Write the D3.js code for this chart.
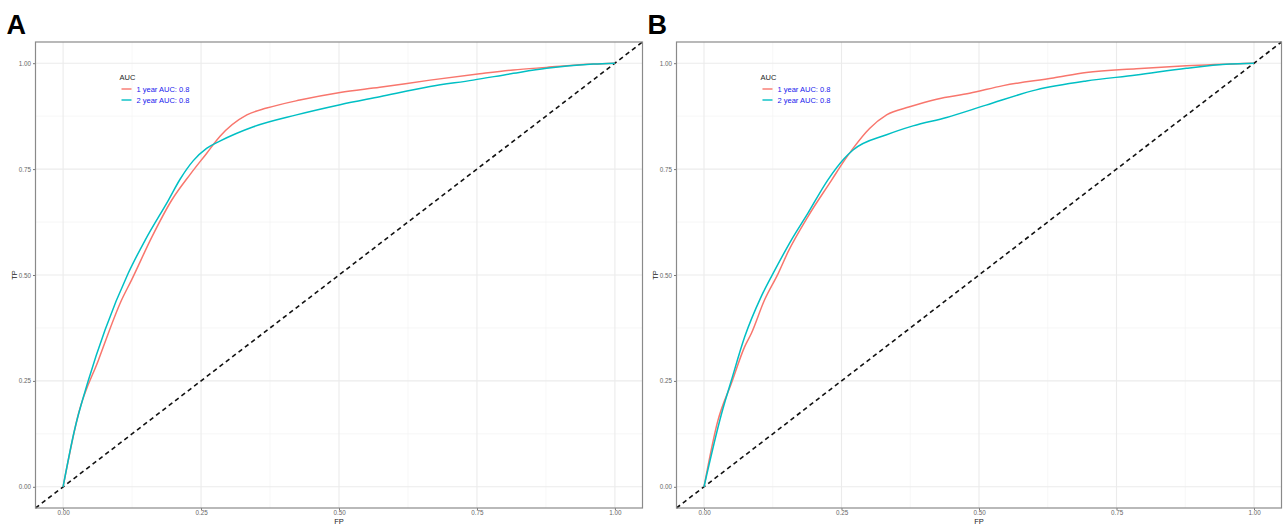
<!DOCTYPE html>
<html>
<head>
<meta charset="utf-8">
<script src="https://cdn.jsdelivr.net/npm/d3@7"></script>
<style>
  body { margin: 0; background: #fff; }
  svg { display: block; font-family: "Liberation Sans", Arial, sans-serif; }
</style>
</head>
<body>
<script>
// tick values shared by both panels
var ticks = [0, 0.25, 0.5, 0.75, 1];
var tickLabels = ["0.00", "0.25", "0.50", "0.75", "1.00"];
var seriesNames = ["1 year AUC: 0.8", "2 year AUC: 0.8"];
var seriesColors = ["#F8766D", "#00BFC4"];

// panel A, 1 year
var aFp1 = [0, 0.028, 0.064, 0.106, 0.124, 0.161, 0.197, 0.230, 0.260, 0.284, 0.333, 0.369, 0.429, 0.502, 0.574, 0.665, 0.755, 0.816, 0.876, 0.961, 1];
var aTp1 = [0, 0.173, 0.299, 0.441, 0.488, 0.590, 0.677, 0.737, 0.787, 0.827, 0.878, 0.894, 0.913, 0.931, 0.943, 0.960, 0.975, 0.984, 0.990, 0.998, 1];
// panel A, 2 year
var aFp2 = [0, 0.020, 0.046, 0.076, 0.118, 0.149, 0.191, 0.212, 0.236, 0.260, 0.284, 0.345, 0.423, 0.502, 0.574, 0.665, 0.743, 0.816, 0.876, 0.961, 1];
var aTp2 = [0, 0.130, 0.252, 0.370, 0.504, 0.583, 0.677, 0.726, 0.770, 0.799, 0.816, 0.850, 0.878, 0.902, 0.921, 0.945, 0.960, 0.976, 0.988, 0.998, 1];
// panel B, 1 year
var bFp1 = [0, 0.025, 0.050, 0.074, 0.086, 0.110, 0.135, 0.153, 0.189, 0.232, 0.255, 0.271, 0.301, 0.332, 0.374, 0.423, 0.483, 0.544, 0.635, 0.695, 0.786, 0.877, 1];
var bTp1 = [0, 0.155, 0.245, 0.331, 0.362, 0.441, 0.504, 0.555, 0.638, 0.724, 0.770, 0.799, 0.846, 0.878, 0.897, 0.915, 0.929, 0.947, 0.965, 0.978, 0.987, 0.994, 1];
// panel B, 2 year
var bFp2 = [0, 0.032, 0.050, 0.074, 0.104, 0.129, 0.159, 0.189, 0.225, 0.255, 0.271, 0.332, 0.380, 0.441, 0.513, 0.604, 0.695, 0.786, 0.877, 0.956, 1];
var bTp2 = [0, 0.173, 0.252, 0.354, 0.449, 0.512, 0.583, 0.646, 0.724, 0.775, 0.795, 0.831, 0.852, 0.872, 0.901, 0.937, 0.958, 0.972, 0.988, 0.998, 1];

var W = 1284, H = 525;
var svg = d3.select("body").append("svg").attr("width", W).attr("height", H);

function pairs(fp, tp) { return fp.map(function(f, i) { return [f, tp[i]]; }); }

function drawPanel(letter, box, series) {
  var x = d3.scaleLinear().domain([-0.05, 1.05]).range([box.left, box.right]);
  var y = d3.scaleLinear().domain([-0.05, 1.05]).range([box.bottom, box.top]);
  var g = svg.append("g");

  // panel letter
  g.append("text")
      .attr("x", box.left - 29).attr("y", 34)
      .attr("font-size", 27).attr("font-weight", "bold")
      .text(letter);

  // minor grid
  var minor = [0.125, 0.375, 0.625, 0.875];
  g.selectAll(".minx").data(minor).enter().append("line")
      .attr("x1", d => x(d)).attr("x2", d => x(d))
      .attr("y1", box.top).attr("y2", box.bottom)
      .attr("stroke", "#f3f3f3").attr("stroke-width", 0.7);
  g.selectAll(".miny").data(minor).enter().append("line")
      .attr("y1", d => y(d)).attr("y2", d => y(d))
      .attr("x1", box.left).attr("x2", box.right)
      .attr("stroke", "#f3f3f3").attr("stroke-width", 0.7);
  // major grid
  g.selectAll(".majx").data(ticks).enter().append("line")
      .attr("x1", d => x(d)).attr("x2", d => x(d))
      .attr("y1", box.top).attr("y2", box.bottom)
      .attr("stroke", "#ebebeb").attr("stroke-width", 1.1);
  g.selectAll(".majy").data(ticks).enter().append("line")
      .attr("y1", d => y(d)).attr("y2", d => y(d))
      .attr("x1", box.left).attr("x2", box.right)
      .attr("stroke", "#ebebeb").attr("stroke-width", 1.1);

  // axes
  var xAxis = d3.axisBottom(x).tickValues(ticks).tickFormat((d, i) => tickLabels[i]).tickSize(2).tickPadding(1);
  var yAxis = d3.axisLeft(y).tickValues(ticks).tickFormat((d, i) => tickLabels[i]).tickSize(2.5).tickPadding(2);
  var gx = g.append("g").attr("transform", "translate(0," + box.bottom + ")").call(xAxis);
  var gy = g.append("g").attr("transform", "translate(" + box.left + ",0)").call(yAxis);
  [gx, gy].forEach(function(a) {
    a.select(".domain").remove();
    a.selectAll("line").attr("stroke", "#555").attr("stroke-width", 0.8);
    a.selectAll("text").attr("fill", "#666").attr("font-size", 6.3).attr("font-family", null);
  });

  // axis titles
  g.append("text")
      .attr("x", (box.left + box.right) / 2).attr("y", 524)
      .attr("text-anchor", "middle").attr("font-size", 7.5).attr("fill", "#222")
      .text("FP");
  g.append("text")
      .attr("transform", "translate(" + (box.left - 19) + "," + ((box.top + box.bottom) / 2) + ") rotate(-90)")
      .attr("text-anchor", "middle").attr("font-size", 7.5).attr("fill", "#222")
      .text("TP");

  // diagonal reference
  g.append("line")
      .attr("x1", x(-0.05)).attr("y1", y(-0.05))
      .attr("x2", x(1.05)).attr("y2", y(1.05))
      .attr("stroke", "#111").attr("stroke-width", 1.6)
      .attr("stroke-dasharray", "4.5,3.5");

  // curves
  var line = d3.line().x(d => x(d[0])).y(d => y(d[1])).curve(d3.curveMonotoneX);
  series.forEach(function(s, i) {
    g.append("path")
        .datum(s)
        .attr("d", line)
        .attr("fill", "none")
        .attr("stroke", seriesColors[i])
        .attr("stroke-width", 1.5);
  });

  // border
  g.append("rect")
      .attr("x", box.left).attr("y", box.top)
      .attr("width", box.right - box.left).attr("height", box.bottom - box.top)
      .attr("fill", "none").attr("stroke", "#8a8a8a").attr("stroke-width", 1.2);

  // legend
  var lx = box.left + 84, ly = 77;
  g.append("text").attr("x", lx).attr("y", ly + 2.5)
      .attr("font-size", 7.5).attr("fill", "#222").text("AUC");
  seriesNames.forEach(function(name, i) {
    var yy = ly + 12 + i * 11;
    g.append("line")
        .attr("x1", lx + 2).attr("x2", lx + 12)
        .attr("y1", yy).attr("y2", yy)
        .attr("stroke", seriesColors[i]).attr("stroke-width", 1.4);
    g.append("text")
        .attr("x", lx + 17).attr("y", yy + 2.7)
        .attr("font-size", 7.5).attr("fill", "#2020ee")
        .text(name);
  });
}

drawPanel("A", { left: 35.5, right: 642.5, top: 42, bottom: 508 },
  [pairs(aFp1, aTp1), pairs(aFp2, aTp2)]);
drawPanel("B", { left: 676.5, right: 1281.5, top: 42, bottom: 508 },
  [pairs(bFp1, bTp1), pairs(bFp2, bTp2)]);
</script>
</body>
</html>
